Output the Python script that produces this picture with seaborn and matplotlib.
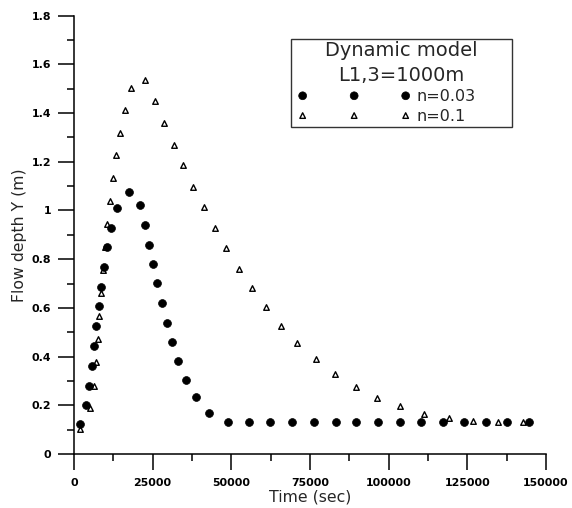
import matplotlib
matplotlib.use("Agg")
import matplotlib.pyplot as plt
import seaborn as sns
from matplotlib.ticker import MultipleLocator, FuncFormatter
from matplotlib.collections import PathCollection
from matplotlib.lines import Line2D
from matplotlib.legend_handler import HandlerPathCollection, HandlerLine2D

# n = 0.03 (circulos cheios)
tempo_003 = [1900, 3800, 4900, 5600, 6400, 7100, 7900, 8700, 9500, 10400,
             11700, 13800, 17600, 21000, 22500, 23800, 25200, 26500, 28000, 29400,
             31100, 33000, 35500, 38700, 42900, 49000, 55600, 62400, 69400, 76200,
             83200, 89700, 96600, 103500, 110400, 117100, 123800, 130800, 137700, 144500]
prof_003 = [0.122, 0.201, 0.281, 0.361, 0.442, 0.524, 0.606, 0.687, 0.769, 0.849,
            0.929, 1.009, 1.075, 1.021, 0.942, 0.860, 0.780, 0.701, 0.620, 0.539,
            0.459, 0.382, 0.304, 0.233, 0.167, 0.130, 0.130, 0.130, 0.130, 0.130,
            0.130, 0.130, 0.130, 0.130, 0.130, 0.130, 0.130, 0.130, 0.130, 0.130]

# n = 0.1 (triangulos vazados)
tempo_01 = [1900, 5100, 6250, 6900, 7500, 8050, 8700, 9300, 10000, 10500,
            11400, 12300, 13300, 14600, 16300, 18100, 22600, 25600, 28600, 31700,
            34700, 37900, 41400, 44700, 48400, 52500, 56700, 61100, 65800, 71000,
            76900, 83000, 89500, 96400, 103700, 111200, 119100, 126800, 134800, 142700]
prof_01 = [0.103, 0.188, 0.281, 0.377, 0.471, 0.565, 0.660, 0.756, 0.850, 0.945,
           1.039, 1.133, 1.227, 1.320, 1.413, 1.504, 1.535, 1.448, 1.359, 1.270,
           1.186, 1.098, 1.013, 0.928, 0.845, 0.760, 0.680, 0.602, 0.524, 0.455,
           0.390, 0.330, 0.275, 0.230, 0.196, 0.166, 0.147, 0.134, 0.133, 0.133]

titulo_legenda = "Dynamic model\nL1,3=1000m"
rotulo_003 = "n=0.03"
rotulo_01 = "n=0.1"
rotulo_x = "Time (sec)"
rotulo_y = "Flow depth Y (m)"

sns.set_style("ticks")
plt.rcParams["font.family"] = ["DejaVu Sans"]

fig = plt.figure(figsize=(5.72, 5.08), dpi=100)
ax = fig.add_axes([0.1294, 0.1063, 0.8252, 0.8628])

sns.scatterplot(x=tempo_003, y=prof_003, ax=ax, marker="o", s=32,
                color="black", edgecolor="black", linewidth=0.5,
                label=rotulo_003, zorder=3)
sns.scatterplot(x=tempo_01, y=prof_01, ax=ax, marker="^", s=16,
                color="white", edgecolor="black", linewidth=1.0,
                label=rotulo_01, zorder=2)

ax.set_xlim(0, 150000)
ax.set_ylim(0, 1.8)
ax.xaxis.set_major_locator(MultipleLocator(25000))
ax.xaxis.set_minor_locator(MultipleLocator(12500))
ax.yaxis.set_major_locator(MultipleLocator(0.2))
ax.yaxis.set_minor_locator(MultipleLocator(0.1))
ax.xaxis.set_major_formatter(FuncFormatter(lambda v, p: f"{v:.0f}"))
ax.yaxis.set_major_formatter(FuncFormatter(lambda v, p: f"{v:g}"))

ax.tick_params(which="major", direction="out", length=11.5, width=1.1,
               color="black", labelsize=7.9, labelcolor="black")
ax.tick_params(which="minor", direction="out", length=5, width=1.1, color="black")
ax.tick_params(axis="x", which="major", pad=6)
ax.tick_params(axis="y", which="major", pad=5)
plt.setp(ax.get_xticklabels() + ax.get_yticklabels(), fontweight="bold")

sns.despine(ax=ax)
for lado in ["left", "bottom"]:
    ax.spines[lado].set_linewidth(1.1)
    ax.spines[lado].set_color("black")

ax.set_xlabel(rotulo_x, fontsize=11.3)
ax.set_ylabel(rotulo_y, fontsize=11.3)
ax.xaxis.set_label_coords(0.5, -0.082)
ax.yaxis.set_label_coords(-0.1, 0.5)

mapa = {
    PathCollection: HandlerPathCollection(marker_pad=0.6, numpoints=3,
                                          yoffsets=[0.5, 0.5, 0.5]),
    Line2D: HandlerLine2D(marker_pad=0.6, numpoints=3),
}
leg = ax.legend(title=titulo_legenda, title_fontproperties={"size": 14},
                fontsize=11.5, loc="upper left",
                bbox_to_anchor=(0.459, 0.758, 0.469, 0.189), mode="expand",
                borderaxespad=0, handlelength=7.65, handletextpad=0.05,
                labelspacing=0.3, borderpad=0.15, fancybox=False,
                framealpha=1, edgecolor="#333333", handler_map=mapa)
leg.get_frame().set_linewidth(1.0)
leg.get_title().set_multialignment("center")
leg.get_title().set_linespacing(1.35)

fig.savefig("out.png", dpi=100)
